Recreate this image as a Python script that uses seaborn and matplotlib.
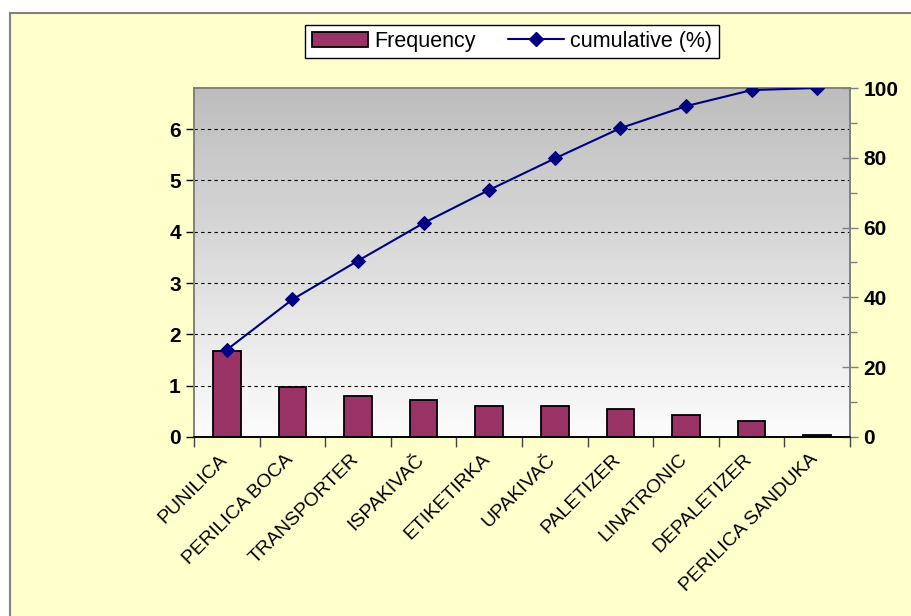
import numpy as np
import matplotlib
matplotlib.use('Agg')
import matplotlib.pyplot as plt
import seaborn as sns
from matplotlib.patches import Rectangle
from matplotlib.lines import Line2D
from matplotlib.colors import LinearSegmentedColormap

# values
categories = ['PUNILICA', 'PERILICA BOCA', 'TRANSPORTER', 'ISPAKIVAČ', 'ETIKETIRKA',
              'UPAKIVAČ', 'PALETIZER', 'LINATRONIC', 'DEPALETIZER', 'PERILICA SANDUKA']
frequency = [1.68, 0.98, 0.79, 0.72, 0.61, 0.61, 0.55, 0.43, 0.31, 0.04]
cumulative = [25.0, 39.4, 50.5, 61.3, 70.8, 79.8, 88.5, 94.8, 99.4, 100.0]

sns.set_style('white')
plt.rcParams['font.family'] = ['Liberation Sans', 'DejaVu Sans']
plt.rcParams['text.color'] = 'black'
plt.rcParams['xtick.color'] = 'black'
plt.rcParams['ytick.color'] = 'black'

bar_color = '#993366'
line_color = '#000080'

fig = plt.figure(figsize=(9.12, 6.16), dpi=100)
fig.patch.set_facecolor('white')
# yellow chart area with grey border on left/top
fig.patches.append(Rectangle((10 / 912, -0.05), 1.1, 1 - 13 / 616 + 0.05,
                             transform=fig.transFigure, facecolor='#FFFFCC',
                             edgecolor='#808080', linewidth=1.5, zorder=-10))

ax = fig.add_axes([194 / 912, 179 / 616, 656 / 912, 349 / 616])
ax.patch.set_visible(False)

# grey gradient background of plot area
grad = np.linspace(0, 1, 256).reshape(-1, 1)
cmap = LinearSegmentedColormap.from_list('g', ['#FCFCFC', '#BDBDBD'])
ax.imshow(grad, extent=[0, 1, 0, 1], transform=ax.transAxes, cmap=cmap,
          aspect='auto', origin='lower', zorder=0)

sns.barplot(x=categories, y=frequency, color=bar_color, saturation=1, width=0.42,
            edgecolor='black', linewidth=1.3, ax=ax, zorder=2)

ax.set_xlim(-0.5, len(categories) - 0.5)
ax.set_ylim(0, 6.8)
ax.set_yticks(range(0, 7))
ax.set_axisbelow(True)
ax.grid(axis='y', linestyle=(0, (3, 3)), color='black', linewidth=0.8)
ax.grid(axis='x', visible=False)

ax2 = ax.twinx()
sns.lineplot(x=np.arange(len(categories)), y=cumulative, color=line_color, linewidth=1.5,
             marker='D', markersize=7, markeredgecolor=line_color, ax=ax2, zorder=3)
ax2.set_ylim(0, 100)
ax2.set_yticks(range(0, 101, 20))
ax2.set_yticks(range(10, 100, 20), minor=True)
ax2.set_xlim(-0.5, len(categories) - 0.5)

# x tick marks between categories; labels (invisible major ticks) nudged a bit left
ax.set_xticks(np.arange(len(categories)) - 0.12)
ax.set_xticklabels(categories, rotation=45, ha='right', rotation_mode='anchor',
                   fontsize=14, color='black')
ax.set_xticks(np.arange(-0.5, len(categories)), minor=True)
ax.tick_params(axis='x', which='major', length=0, pad=10)
ax.tick_params(axis='x', which='minor', length=7, width=1, color='#444444', direction='out', bottom=True)
ax.tick_params(axis='y', which='major', length=6, width=1, color='black', direction='out',
               labelsize=15, left=True, labelcolor='black')
for t in ax.get_yticklabels():
    t.set_fontweight('bold')
ax2.tick_params(axis='y', which='major', length=12, width=1, color='#808080', direction='inout',
                labelsize=15, right=True, labelcolor='black')
ax2.tick_params(axis='y', which='minor', length=5, width=1, color='#808080', direction='out', right=True)
for t in ax2.get_yticklabels():
    t.set_fontweight('bold')

for a in (ax, ax2):
    a.spines['top'].set_color('#808080')
    a.spines['right'].set_color('#808080')
    a.spines['left'].set_color('#808080')
    a.spines['bottom'].set_color('black')
    for s in a.spines.values():
        s.set_linewidth(1.2)
ax.set_xlabel('')
ax.set_ylabel('')
ax2.set_ylabel('')

handles = [Rectangle((0, 0), 1, 1, facecolor=bar_color, edgecolor='black', linewidth=1.3),
           Line2D([0], [0], color=line_color, linewidth=1.5, marker='D', markersize=7)]
leg = fig.legend(handles, ['Frequency', 'cumulative (%)'], loc='center', ncol=2,
                 bbox_to_anchor=(512 / 912, 1 - 41.5 / 616), fontsize=15.5, frameon=True,
                 fancybox=False, edgecolor='black', framealpha=1, handlelength=2.6,
                 columnspacing=1.5, borderpad=0.3, handletextpad=0.3)
leg.get_frame().set_linewidth(1.0)

fig.savefig('out.png', dpi=100, facecolor=fig.get_facecolor())
